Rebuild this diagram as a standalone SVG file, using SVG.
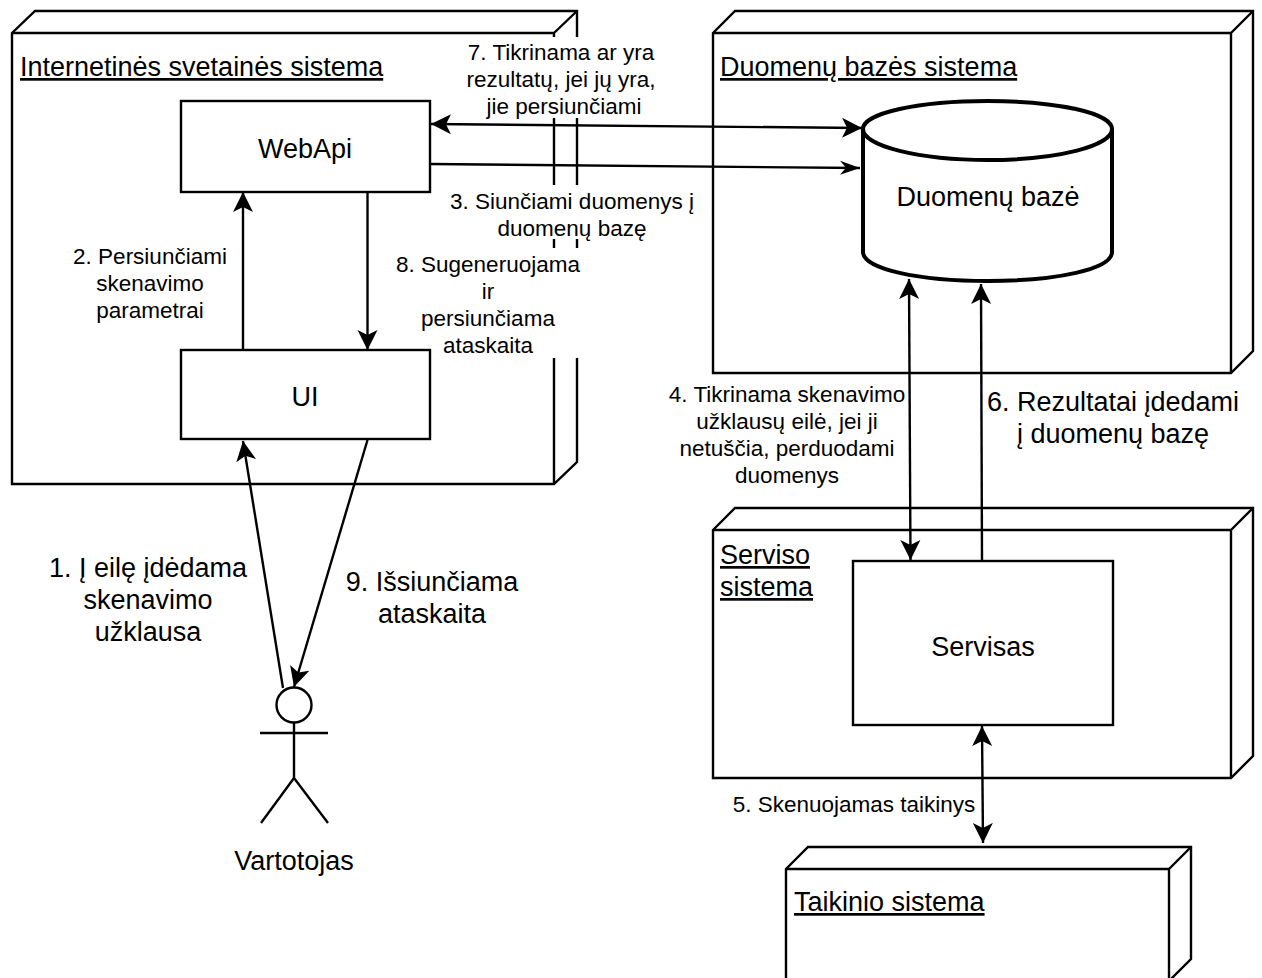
<svg xmlns="http://www.w3.org/2000/svg" width="1262" height="978" viewBox="0 0 1262 978">
<defs>
<style>
.s{fill:#fff;stroke:#000;stroke-width:2.4}
.d{fill:none;stroke:#000;stroke-width:2.4}
.c{fill:none;stroke:#000;stroke-width:2.4}
.db{stroke:#000;stroke-width:4}
text{font-family:"Liberation Sans",Arial,sans-serif;fill:#000}
.l{font-size:27px;text-decoration:underline}
.m{font-size:27px;text-anchor:middle}
.t{font-size:22.500px;text-anchor:middle}
.bg{fill:#fff;stroke:none}
</style>
<marker id="a" markerUnits="userSpaceOnUse" markerWidth="22" markerHeight="24" refX="20" refY="12" orient="auto-start-reverse" viewBox="0 0 22 24">
<path d="M20 12 L0 2 L5 12 L0 22 Z" fill="#000"/>
</marker>
<marker id="b" markerUnits="userSpaceOnUse" markerWidth="22" markerHeight="18" refX="20" refY="9" orient="auto" viewBox="0 0 22 18">
<path d="M20 9 L0 2 L6 9 L0 16 Z" fill="#000"/>
</marker>
</defs>
<rect width="1262" height="978" fill="#fff"/>
<g id="node-internet">
<path class="s" d="M12 33 L35 11 H577 V462 L554 484 H12 Z"/>
<path class="d" d="M12 33 H554 V484 M554 33 L577 11"/>
<text class="l" x="20" y="76">Internetinės svetainės sistema</text>
</g>
<g id="node-db-system">
<path class="s" d="M713 33 L735 11 H1253 V351 L1231 373 H713 Z"/>
<path class="d" d="M713 33 H1231 V373 M1231 33 L1253 11"/>
<text class="l" x="720" y="76">Duomenų bazės sistema</text>
</g>
<g id="node-service-system">
<path class="s" d="M713 530 L735 508 H1253 V756 L1231 778 H713 Z"/>
<path class="d" d="M713 530 H1231 V778 M1231 530 L1253 508"/>
<text class="l" x="720" y="564">Serviso</text>
<text class="l" x="720" y="596">sistema</text>
</g>
<g id="node-target-system">
<path class="s" d="M786 869 L808 847 H1191 V959 L1169 981 H786 Z"/>
<path class="d" d="M786 869 H1169 V981 M1169 869 L1191 847"/>
<text class="l" x="794" y="911">Taikinio sistema</text>
</g>
<g id="label-backgrounds">
<rect class="bg" x="465" y="37" width="192" height="81"/>
<rect class="bg" x="450" y="185" width="245" height="54"/>
<rect class="bg" x="396" y="248" width="185" height="110"/>
</g>
<g id="node-webapi">
<rect class="s" x="181" y="101" width="249" height="91"/>
<text class="m" x="305" y="158">WebApi</text>
</g>
<g id="node-ui">
<rect class="s" x="181" y="350" width="249" height="89"/>
<text class="m" x="305" y="406">UI</text>
</g>
<g id="node-db">
<path class="db" d="M863 129 C863 113 919 101 988 101 C1057 101 1112 113 1112 129 V252 C1112 269 1057 281 988 281 C919 281 863 269 863 252 Z" fill="#fff"/>
<path class="db" d="M863 129 C863 146 919 160 988 160 C1057 160 1112 146 1112 129" fill="none"/>
<text class="m" x="988" y="206">Duomenų bazė</text>
</g>
<g id="node-service">
<rect class="s" x="853" y="561" width="260" height="164"/>
<text class="m" x="983" y="656">Servisas</text>
</g>
<g id="node-actor">
<circle class="s" cx="294" cy="705" r="17.500"/>
<path class="d" d="M294 722.500 V778 M260 733 H328 M261 823 L294 778 L328 823"/>
<text class="m" x="294" y="870">Vartotojas</text>
</g>
<g id="connectors">
<path class="c" marker-start="url(#a)" marker-end="url(#a)" d="M431 124 L862 128"/>
<path class="c" marker-end="url(#b)" d="M430 164 L860 168"/>
<path class="c" marker-end="url(#a)" d="M243 350 V192"/>
<path class="c" marker-end="url(#a)" d="M367.500 192 V350"/>
<path class="c" marker-end="url(#a)" d="M283 688 L243 441"/>
<path class="c" marker-end="url(#a)" d="M367.500 440 L294 687"/>
<path class="c" marker-start="url(#a)" marker-end="url(#a)" d="M909 279 L910.500 560"/>
<path class="c" marker-end="url(#a)" d="M982 561 L981 284"/>
<path class="c" marker-start="url(#a)" marker-end="url(#a)" d="M982 726 L983 843"/>
</g>
<g id="labels">
<text class="t"><tspan x="561" y="60">7. Tikrinama ar yra</tspan><tspan x="561" y="87">rezultatų, jei jų yra,</tspan><tspan x="564" y="114">jie persiunčiami</tspan></text>
<text class="t"><tspan x="572" y="209">3. Siunčiami duomenys į</tspan><tspan x="572" y="236">duomenų bazę</tspan></text>
<text class="t"><tspan x="488" y="272">8. Sugeneruojama</tspan><tspan x="488" y="299">ir</tspan><tspan x="488" y="326">persiunčiama</tspan><tspan x="488" y="353">ataskaita</tspan></text>
<text class="t"><tspan x="150" y="264">2. Persiunčiami</tspan><tspan x="150" y="291">skenavimo</tspan><tspan x="150" y="318">parametrai</tspan></text>
<text class="t"><tspan x="787" y="402">4. Tikrinama skenavimo</tspan><tspan x="787" y="429">užklausų eilė, jei ji</tspan><tspan x="787" y="456">netuščia, perduodami</tspan><tspan x="787" y="483">duomenys</tspan></text>
<text class="m"><tspan x="1113" y="411">6. Rezultatai įdedami</tspan><tspan x="1113" y="443">į duomenų bazę</tspan></text>
<text class="m"><tspan x="148" y="577">1. Į eilę įdėdama</tspan><tspan x="148" y="609">skenavimo</tspan><tspan x="148" y="641">užklausa</tspan></text>
<text class="m"><tspan x="432" y="591">9. Išsiunčiama</tspan><tspan x="432" y="623">ataskaita</tspan></text>
<text class="t"><tspan x="854" y="812">5. Skenuojamas taikinys</tspan></text>
</g>
</svg>
